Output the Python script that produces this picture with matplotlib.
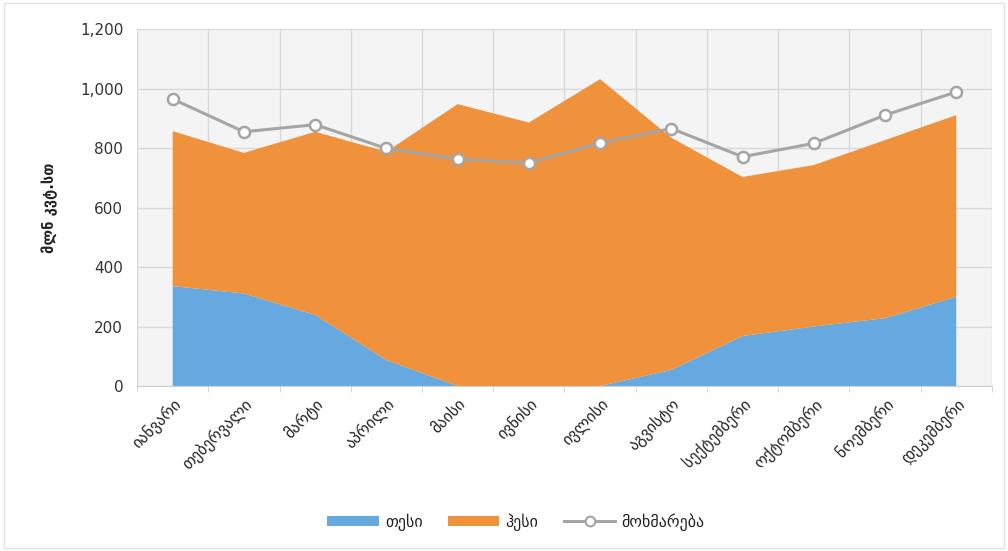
import matplotlib
matplotlib.use("Agg")
import matplotlib.pyplot as plt
from matplotlib.lines import Line2D
from matplotlib.patches import Patch, Rectangle
from matplotlib.ticker import FuncFormatter, MultipleLocator
import numpy as np

months = ["იანვარი", "თებერვალი", "მარტი", "აპრილი", "მაისი", "ივნისი",
          "ივლისი", "აგვისტო", "სექტემბერი", "ოქტომბერი", "ნოემბერი", "დეკემბერი"]
tes = [336, 311, 239, 87, 0, 0, 0, 54, 168, 200, 228, 300]
total = [857, 784, 855, 788, 948, 886, 1032, 835, 703, 743, 827, 911]
hes = [t - s for t, s in zip(total, tes)]
consumption = [965, 855, 879, 799, 763, 750, 818, 866, 771, 816, 911, 989]

series_names = ["თესი", "ჰესი", "მოხმარება"]
y_label = "მლნ კვტ.სთ"

blue = "#66a9e0"
orange = "#f0913b"
gray = "#a5a5a5"

plt.rcParams["font.family"] = ["DejaVu Sans"]

fig = plt.figure(figsize=(10.08, 5.51), dpi=100)
fig.patches.append(Rectangle((0.004, 0.006), 0.992, 0.988, transform=fig.transFigure,
                             fill=False, edgecolor="#e2e2e2", linewidth=1.0))
ax = fig.add_axes([0.136, 0.2995, 0.848, 0.6475])

x = np.arange(len(months))
ax.set_facecolor("#f4f4f4")
ax.stackplot(x, tes, hes, colors=[blue, orange], linewidth=0, zorder=2)
ax.plot(x, consumption, color=gray, linewidth=2.2, marker="o", markersize=8,
        markerfacecolor="white", markeredgecolor=gray, markeredgewidth=1.8, zorder=3)

ax.set_xlim(-0.5, len(months) - 0.5)
ax.set_ylim(0, 1200)
ax.yaxis.set_major_locator(MultipleLocator(200))
ax.yaxis.set_major_formatter(FuncFormatter(lambda v, p: f"{int(v):,}"))
ax.set_xticks(x)
ax.set_xticklabels(months, rotation=45, ha="right", rotation_mode="anchor",
                   fontsize=11.5, color="#222222")
ax.set_xticks(np.arange(-0.5, len(months)), minor=True)
ax.tick_params(axis="x", which="major", length=0, pad=7)
ax.tick_params(axis="x", which="minor", length=4, color="#d0d0d0")
ax.tick_params(axis="y", length=0, labelsize=11, pad=10, colors="#333333")
ax.grid(True, axis="y", color="#d9d9d9", linewidth=1, zorder=0)
ax.grid(True, axis="x", which="minor", color="#d9d9d9", linewidth=1, zorder=0)
ax.set_axisbelow(True)
for side in ["top", "right", "left"]:
    ax.spines[side].set_visible(False)
ax.spines["bottom"].set_color("#d0d0d0")

ax.set_ylabel(y_label, fontsize=10.5, fontweight="bold", labelpad=16, color="#222222")

handles = [Patch(facecolor=blue, edgecolor="none"),
           Patch(facecolor=orange, edgecolor="none"),
           Line2D([0], [0], color=gray, linewidth=2.2, marker="o", markersize=7,
                  markerfacecolor="white", markeredgecolor=gray, markeredgewidth=1.5)]
fig.legend(handles, series_names, loc="center", bbox_to_anchor=(0.512, 0.053),
           ncol=3, frameon=False, fontsize=11.5, handlelength=3.2, handleheight=0.6,
           columnspacing=1.6, handletextpad=0.4, labelcolor="#222222")

fig.savefig("out.png", dpi=100)
